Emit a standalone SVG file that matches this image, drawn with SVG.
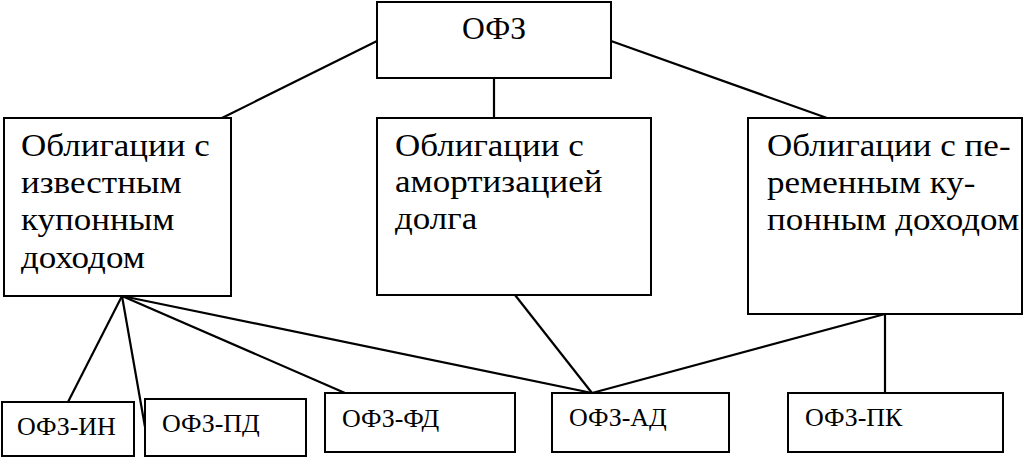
<svg xmlns="http://www.w3.org/2000/svg" width="1024" height="466" viewBox="0 0 1024 466">
<style>
.box{fill:#fff;stroke:#000;stroke-width:2}
.ln{stroke:#000;stroke-width:2.2}
svg g text.t, svg g text.t tspan{font-family:'Liberation Serif',serif !important;fill:#000}
</style>
<rect x="0" y="0" width="1024" height="466" fill="#fff"/>
<g id="connectors">
<line class="ln" x1="377" y1="41" x2="222" y2="118"/>
<line class="ln" x1="494" y1="78" x2="494" y2="118"/>
<line class="ln" x1="611" y1="41" x2="827" y2="118"/>
<line class="ln" x1="122" y1="296" x2="68" y2="402"/>
<line class="ln" x1="122" y1="296" x2="145" y2="427"/>
<line class="ln" x1="122" y1="296" x2="345" y2="393"/>
<line class="ln" x1="122" y1="296" x2="592" y2="393"/>
<line class="ln" x1="515" y1="295" x2="592" y2="393"/>
<line class="ln" x1="885" y1="314" x2="592" y2="393"/>
<line class="ln" x1="885" y1="314" x2="885" y2="393"/>
</g>
<g id="n-ofz"><rect class="box" x="377" y="2" width="234" height="76"/><text class="t" style="font-family:'Liberation Serif',serif !important" font-family="Liberation Serif" font-size="31" x="462" y="39" textLength="64" lengthAdjust="spacingAndGlyphs"><tspan style="font-family:'Liberation Serif',serif !important">ОФЗ</tspan></text></g>
<g id="n-known"><rect class="box" x="4" y="118" width="227" height="178"/>
<text class="t" style="font-family:'Liberation Serif',serif !important" font-family="Liberation Serif" font-size="31" transform="translate(21 0) scale(1.13 1)" x="0" y="156"><tspan style="font-family:'Liberation Serif',serif !important">Облигации с</tspan></text>
<text class="t" style="font-family:'Liberation Serif',serif !important" font-family="Liberation Serif" font-size="31" transform="translate(21 0) scale(1.13 1)" x="0" y="193"><tspan style="font-family:'Liberation Serif',serif !important">известным</tspan></text>
<text class="t" style="font-family:'Liberation Serif',serif !important" font-family="Liberation Serif" font-size="31" transform="translate(21 0) scale(1.13 1)" x="0" y="230"><tspan style="font-family:'Liberation Serif',serif !important">купонным</tspan></text>
<text class="t" style="font-family:'Liberation Serif',serif !important" font-family="Liberation Serif" font-size="31" transform="translate(21 0) scale(1.13 1)" x="0" y="268"><tspan style="font-family:'Liberation Serif',serif !important">доходом</tspan></text></g>
<g id="n-amort"><rect class="box" x="377" y="118" width="274" height="177"/>
<text class="t" style="font-family:'Liberation Serif',serif !important" font-family="Liberation Serif" font-size="31" transform="translate(395 0) scale(1.13 1)" x="0" y="156"><tspan style="font-family:'Liberation Serif',serif !important">Облигации с</tspan></text>
<text class="t" style="font-family:'Liberation Serif',serif !important" font-family="Liberation Serif" font-size="31" transform="translate(395 0) scale(1.13 1)" x="0" y="192"><tspan style="font-family:'Liberation Serif',serif !important">амортизацией</tspan></text>
<text class="t" style="font-family:'Liberation Serif',serif !important" font-family="Liberation Serif" font-size="31" transform="translate(395 0) scale(1.13 1)" x="0" y="229"><tspan style="font-family:'Liberation Serif',serif !important">долга</tspan></text></g>
<g id="n-var"><rect class="box" x="748" y="118" width="274" height="196"/>
<text class="t" style="font-family:'Liberation Serif',serif !important" font-family="Liberation Serif" font-size="31" transform="translate(767 0) scale(1.13 1)" x="0" y="156"><tspan style="font-family:'Liberation Serif',serif !important">Облигации с пе-</tspan></text>
<text class="t" style="font-family:'Liberation Serif',serif !important" font-family="Liberation Serif" font-size="31" transform="translate(767 0) scale(1.13 1)" x="0" y="193"><tspan style="font-family:'Liberation Serif',serif !important">ременным ку-</tspan></text>
<text class="t" style="font-family:'Liberation Serif',serif !important" font-family="Liberation Serif" font-size="31" transform="translate(767 0) scale(1.13 1)" x="0" y="230"><tspan style="font-family:'Liberation Serif',serif !important">понным доходом</tspan></text></g>
<g id="n-in"><rect class="box" x="2" y="402" width="132" height="54"/><text class="t" style="font-family:'Liberation Serif',serif !important" font-family="Liberation Serif" font-size="26" x="17" y="435"><tspan style="font-family:'Liberation Serif',serif !important">ОФЗ-ИН</tspan></text></g>
<g id="n-pd"><rect class="box" x="145" y="399" width="161" height="57"/><text class="t" style="font-family:'Liberation Serif',serif !important" font-family="Liberation Serif" font-size="26" x="162" y="432"><tspan style="font-family:'Liberation Serif',serif !important">ОФЗ-ПД</tspan></text></g>
<g id="n-fd"><rect class="box" x="325" y="393" width="190" height="59"/><text class="t" style="font-family:'Liberation Serif',serif !important" font-family="Liberation Serif" font-size="26" x="342" y="427"><tspan style="font-family:'Liberation Serif',serif !important">ОФЗ-ФД</tspan></text></g>
<g id="n-ad"><rect class="box" x="552" y="393" width="177" height="59"/><text class="t" style="font-family:'Liberation Serif',serif !important" font-family="Liberation Serif" font-size="26" x="569" y="426"><tspan style="font-family:'Liberation Serif',serif !important">ОФЗ-АД</tspan></text></g>
<g id="n-pk"><rect class="box" x="788" y="393" width="215" height="59"/><text class="t" style="font-family:'Liberation Serif',serif !important" font-family="Liberation Serif" font-size="26" x="805" y="426"><tspan style="font-family:'Liberation Serif',serif !important">ОФЗ-ПК</tspan></text></g>
</svg>
